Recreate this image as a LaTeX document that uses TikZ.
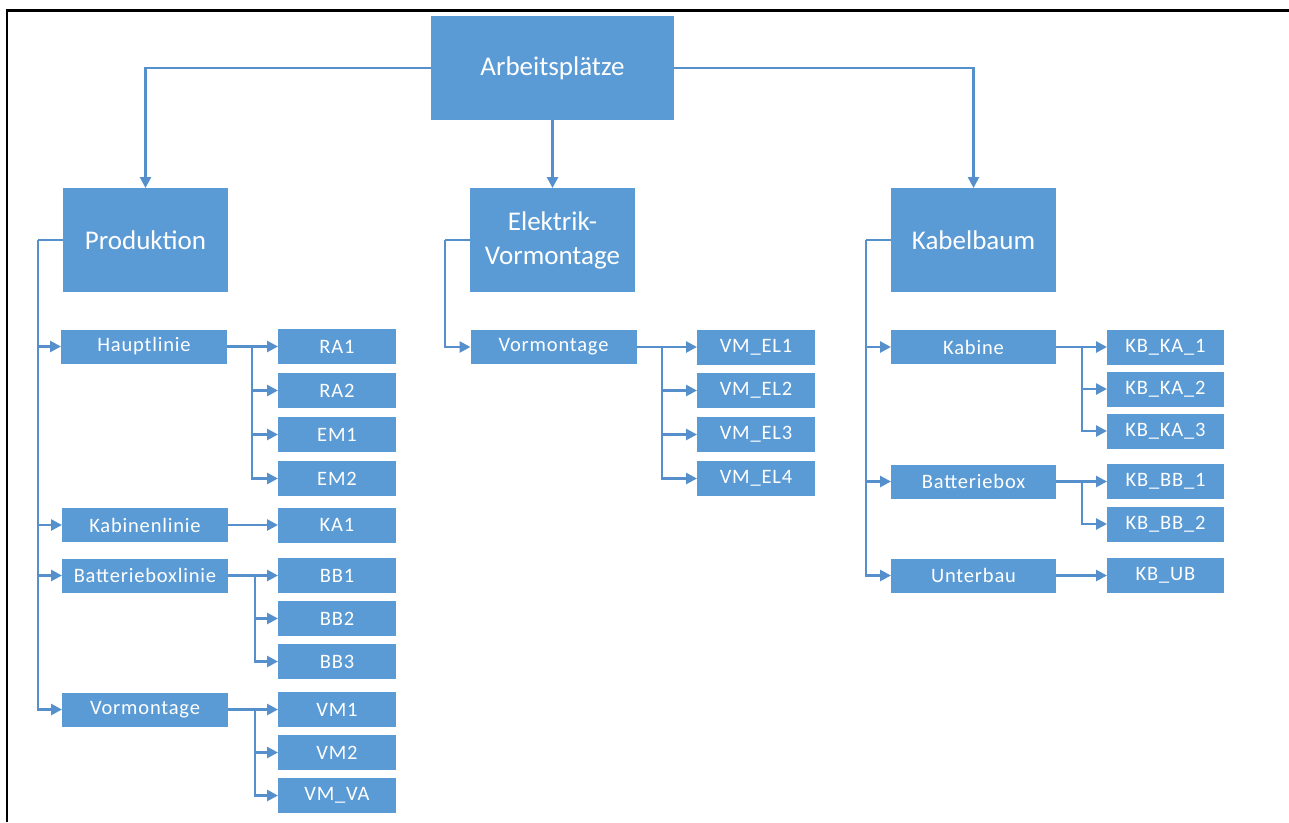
\documentclass[tikz,border=0pt]{standalone}
\usepackage{fontspec}
\setmainfont{Carlito}
\newfontfamily\smallboxfont{Carlito}[LetterSpace=4]
\usetikzlibrary{arrows.meta}
\definecolor{boxblue}{HTML}{5B9BD5}
\definecolor{lineblue}{HTML}{5590CC}
\begin{document}
\begin{tikzpicture}[x=1pt,y=-1pt,
  every node/.style={inner sep=0pt, outer sep=0pt},
  bigbox/.style={fill=boxblue, text=white, minimum width=165pt, minimum height=104pt,
    font=\fontsize{27}{34}\selectfont, align=center},
  midbox/.style={fill=boxblue, text=white, minimum width=166pt, minimum height=34pt,
    font=\smallboxfont\fontsize{20.5}{24}\selectfont},
  leafbox/.style={fill=boxblue, text=white, minimum width=118pt, minimum height=35pt,
    font=\smallboxfont\fontsize{20.5}{24}\selectfont},
  conn/.style={draw=lineblue, line width=2.6pt, -{Triangle[length=11pt,width=11pt]}},
  plain/.style={draw=lineblue, line width=2.6pt}]

\useasboundingbox (0,0) rectangle (1289,822);
% frame along top and left edge
\draw[line width=2.8pt, black] (7,822) -- (7,10.5) -- (1289,10.5);

% root
\node[bigbox, minimum width=243pt] (root) at (552.5,68) {Arbeitspl\"atze};

% departments
\node[bigbox] (prod) at (145.5,240) {Produktion};
\node[bigbox] (elek) at (552.5,240) {Elektrik-\\Vormontage};
\node[bigbox] (kabel) at (973.5,240) {Kabelbaum};

\draw[conn] (root.west) -| (prod.north);
\draw[conn] (root.south) -- (elek.north);
\draw[conn] (root.east) -| (kabel.north);

% ---------- Produktion ----------
\node[midbox] (haupt) at (144,346.5) {Hauptlinie};
\node[midbox] (kablin) at (145,525) {Kabinenlinie};
\node[midbox] (batlin) at (145,575.5) {Batterieboxlinie};
\node[midbox] (vormP) at (145,709.5) {Vormontage};

\coordinate (busP) at (38,240);
\draw[plain] (prod.west) -- (busP);
\foreach \n in {haupt,kablin,batlin,vormP} \draw[conn] (busP) |- (\n.west);

\node[leafbox] (ra1) at (337,346.5) {RA1};
\node[leafbox] (ra2) at (337,390.5) {RA2};
\node[leafbox] (em1) at (337,434.5) {EM1};
\node[leafbox] (em2) at (337,478.5) {EM2};
\node[leafbox] (ka1) at (337,525) {KA1};
\node[leafbox] (bb1) at (337,575.5) {BB1};
\node[leafbox] (bb2) at (337,618.5) {BB2};
\node[leafbox] (bb3) at (337,661.5) {BB3};
\node[leafbox] (vm1) at (337,709.5) {VM1};
\node[leafbox] (vm2) at (337,752.5) {VM2};
\node[leafbox] (vmva) at (337,795.5) {VM\_VA};

\coordinate (brH) at (252,346.5);
\draw[plain] (haupt.east) -- (brH);
\foreach \n in {ra1,ra2,em1,em2} \draw[conn] (brH) |- (\n.west);

\draw[conn] (kablin.east) -- (ka1.west);

\coordinate (brB) at (255,575.5);
\draw[plain] (batlin.east) -- (brB);
\foreach \n in {bb1,bb2,bb3} \draw[conn] (brB) |- (\n.west);

\coordinate (brV) at (255,709.5);
\draw[plain] (vormP.east) -- (brV);
\foreach \n in {vm1,vm2,vmva} \draw[conn] (brV) |- (\n.west);

% ---------- Elektrik-Vormontage ----------
\node[midbox] (vormE) at (553.5,347) {Vormontage};
\coordinate (busE) at (445,240);
\draw[plain] (elek.west) -- (busE);
\draw[conn] (busE) |- (vormE.west);

\node[leafbox] (el1) at (756,347) {VM\_EL1};
\node[leafbox] (el2) at (756,390.5) {VM\_EL2};
\node[leafbox] (el3) at (756,434.5) {VM\_EL3};
\node[leafbox] (el4) at (756,478.5) {VM\_EL4};

\coordinate (brE) at (662,347);
\draw[plain] (vormE.east) -- (brE);
\foreach \n in {el1,el2,el3,el4} \draw[conn] (brE) |- (\n.west);

% ---------- Kabelbaum ----------
\node[midbox, minimum width=165pt] (kabine) at (973.5,347) {Kabine};
\node[midbox, minimum width=165pt] (batbox) at (973.5,481.5) {Batteriebox};
\node[midbox, minimum width=165pt] (unterbau) at (973.5,575.5) {Unterbau};

\coordinate (busK) at (866,240);
\draw[plain] (kabel.west) -- (busK);
\foreach \n in {kabine,batbox,unterbau} \draw[conn] (busK) |- (\n.west);

\node[leafbox, minimum width=117pt] (kbka1) at (1165.5,347) {KB\_KA\_1};
\node[leafbox, minimum width=117pt] (kbka2) at (1165.5,389) {KB\_KA\_2};
\node[leafbox, minimum width=117pt] (kbka3) at (1165.5,431) {KB\_KA\_3};
\node[leafbox, minimum width=117pt] (kbbb1) at (1165.5,481.5) {KB\_BB\_1};
\node[leafbox, minimum width=117pt] (kbbb2) at (1165.5,524) {KB\_BB\_2};
\node[leafbox, minimum width=117pt] (kbub) at (1165.5,575.5) {KB\_UB};

\coordinate (brKA) at (1082,347);
\draw[plain] (kabine.east) -- (brKA);
\foreach \n in {kbka1,kbka2,kbka3} \draw[conn] (brKA) |- (\n.west);

\coordinate (brKB) at (1082,481.5);
\draw[plain] (batbox.east) -- (brKB);
\foreach \n in {kbbb1,kbbb2} \draw[conn] (brKB) |- (\n.west);

\draw[conn] (unterbau.east) -- (kbub.west);
\end{tikzpicture}
\end{document}
